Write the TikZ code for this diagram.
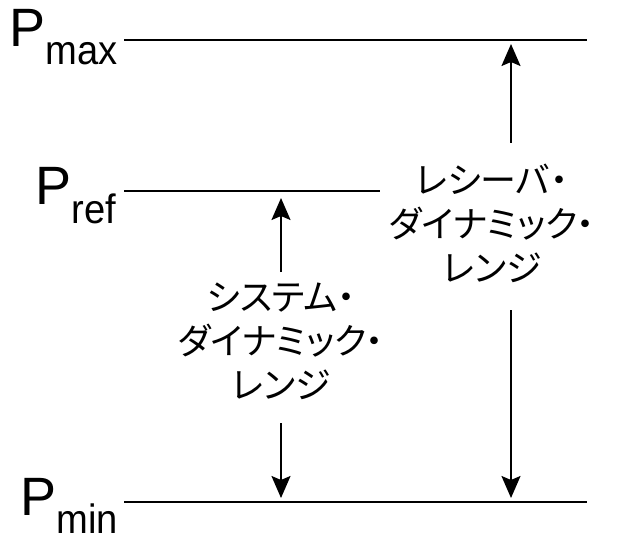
\documentclass[tikz,border=0pt]{standalone}
\usepackage{fontspec}
\setmainfont{Liberation Sans}
\newfontfamily\cjk[RawFeature=+palt]{Noto Sans CJK JP}
\usetikzlibrary{arrows.meta}
\tikzset{
  level/.style={line width=2pt},
  rangearrow/.style={line width=2pt,-{Stealth[length=22pt,width=19pt,inset=4pt]}},
  plabel/.style={inner sep=0pt,anchor=base east,font=\fontsize{54}{54}\selectfont},
  jtext/.style={inner sep=0pt,align=center,font=\cjk\fontsize{36}{44}\selectfont}
}
\newcommand{\psub}[1]{P\raisebox{-18pt}{\fontsize{41}{41}\selectfont\scalebox{0.93}[1]{#1}}}
\begin{document}
\begin{tikzpicture}[x=1pt,y=-1pt]
\useasboundingbox (0,0) rectangle (623,537);
% labels
\node[plabel] (pmax) at (118,47) {\psub{max}};
\node[plabel] (pref) at (116,205) {\psub{ref}};
\node[plabel] (pmin) at (118,515) {\psub{min}};
% levels
\coordinate (maxL) at (124,40);
\coordinate (maxR) at (587,40);
\coordinate (refL) at (124,191);
\coordinate (refR) at (380,191);
\coordinate (minL) at (124,502);
\coordinate (minR) at (587,502);
\draw[level] (maxL) -- (maxR);
\draw[level] (refL) -- (refR);
\draw[level] (minL) -- (minR);
% texts
\node[jtext] (sys) at (281,341) {システム・\\ダイナミック・\\レンジ};
\node[jtext] (rcv) at (492,223) {レシーバ・\\ダイナミック・\\レンジ};
% arrows
\coordinate (sysUp) at (281,272);
\coordinate (sysUpTip) at (281,198);
\coordinate (sysDn) at (281,423);
\coordinate (sysDnTip) at (281,498);
\coordinate (rcvUp) at (511,143);
\coordinate (rcvUpTip) at (511,44);
\coordinate (rcvDn) at (511,310);
\coordinate (rcvDnTip) at (511,498);
\draw[rangearrow] (sysUp) -- (sysUpTip);
\draw[rangearrow] (sysDn) -- (sysDnTip);
\draw[rangearrow] (rcvUp) -- (rcvUpTip);
\draw[rangearrow] (rcvDn) -- (rcvDnTip);
\end{tikzpicture}
\end{document}
